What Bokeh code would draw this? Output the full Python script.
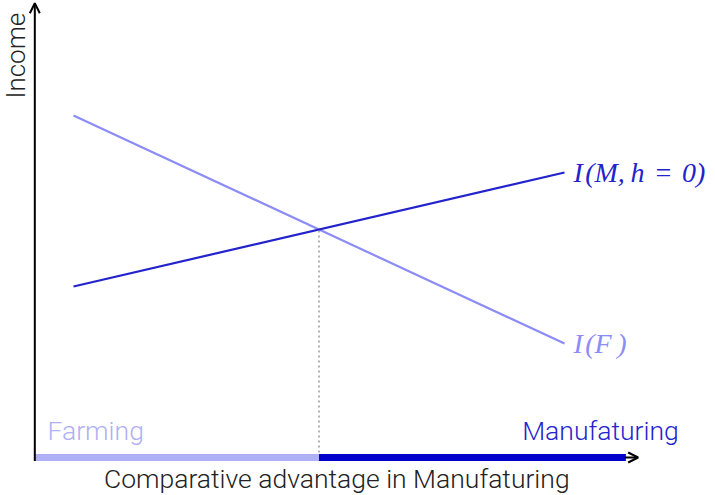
import math
from bokeh.plotting import figure
from bokeh.models import Arrow, OpenHead, Label
from bokeh.embed import file_html
from bokeh.resources import INLINE

# ---- data ----
x_points = [1, 9]                 # comparative advantage
income_farming = [6, 2]           # I(F)
income_manuf = [3, 5]             # I(M, h=0)
crossing_x = 5
crossing_y = 4
axis_origin = 0.37
axis_end = 10
axis_arrow_end = 10.2
y_axis_top = 7.97
region_labels = ["Farming", "Manufaturing"]
line_labels = ["I\u200a(M,\u2009h\u2004=\u20040)", "I\u200a(F\u2009)"]
x_title = "Comparative advantage in Manufaturing"
y_title = "Income"

LIGHT = "#8c8cf7"
DARK = "#2323cc"

p = figure(width=715, height=495, x_range=(-0.189, 11.46), y_range=(-0.667, 8.018),
           output_backend="svg", toolbar_location=None, min_border=0)
p.axis.visible = False
p.grid.visible = False
p.outline_line_color = None

# income lines
p.line(x_points, income_farming, line_color=LIGHT, line_width=2.2)
p.line(x_points, income_manuf, line_color=DARK, line_width=2.2)

# dotted drop line at the crossing
p.segment(x0=[crossing_x], y0=[0], x1=[crossing_x], y1=[crossing_y],
          line_color="#8a8a8a", line_width=1.3, line_dash="2 3")

# coloured x-axis bar
p.segment(x0=[axis_origin], y0=[0], x1=[crossing_x], y1=[0],
          line_color="#b0b0f6", line_width=7, line_cap="butt")
p.segment(x0=[crossing_x], y0=[0], x1=[axis_end], y1=[0],
          line_color="#0000cc", line_width=7, line_cap="butt")

# axes arrows
p.add_layout(Arrow(x_start=axis_origin, y_start=-0.06, x_end=axis_origin, y_end=y_axis_top,
                   line_width=2, line_color="black",
                   end=OpenHead(size=10, line_width=2, line_color="black")))
p.add_layout(Arrow(x_start=axis_end - 0.02, y_start=0, x_end=axis_arrow_end, y_end=0,
                   line_width=2, line_color="black",
                   end=OpenHead(size=10, line_width=2, line_color="black")))

SANS = "Roboto Light"

p.add_layout(Label(x=0.577, y=0.474, text=region_labels[0], text_font=SANS,
                   text_font_size="26.5px", text_color="#b0b0f2",
                   text_baseline="alphabetic", text_align="left"))
p.add_layout(Label(x=10.86, y=0.474, text=region_labels[1], text_font=SANS,
                   text_font_size="26.5px", text_color="#2424cf",
                   text_baseline="alphabetic", text_align="right"))

p.add_layout(Label(x=5.29, y=-0.368, text=x_title, text_font=SANS,
                   text_font_size="26.5px", text_color="#222222",
                   text_baseline="alphabetic", text_align="center"))
p.add_layout(Label(x=0.071, y=7.05, text=y_title, text_font=SANS, angle=math.pi / 2,
                   text_font_size="26px", text_color="#222222",
                   text_baseline="alphabetic", text_align="center"))

p.add_layout(Label(x=9.147, y=income_manuf[1], text=line_labels[0],
                   text_font="Liberation Serif", text_font_style="italic",
                   text_font_size="28px", text_color=DARK,
                   text_baseline="middle", text_align="left"))
p.add_layout(Label(x=9.147, y=income_farming[1], text=line_labels[1],
                   text_font="Liberation Serif", text_font_style="italic",
                   text_font_size="28px", text_color=LIGHT,
                   text_baseline="middle", text_align="left"))

open("out.html", "w").write(file_html(p, INLINE))
